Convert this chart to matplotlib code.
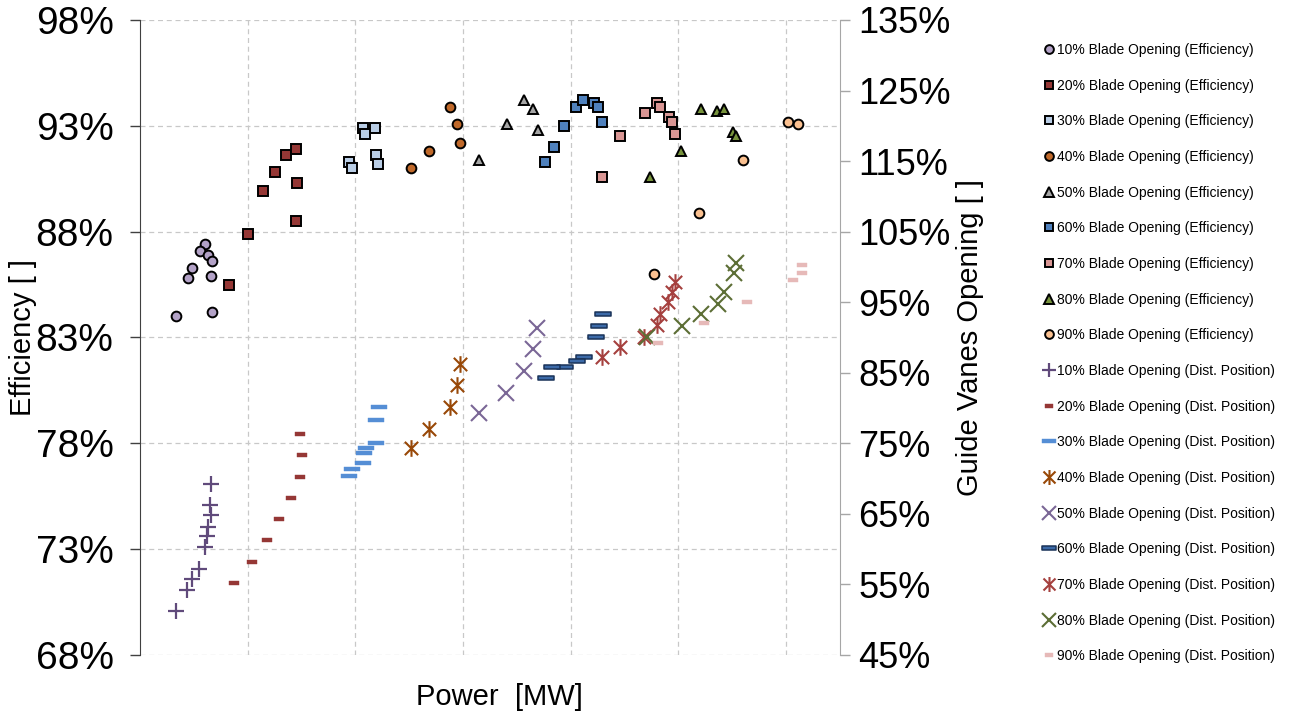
import matplotlib
matplotlib.use("Agg")
import matplotlib.pyplot as plt
from matplotlib.path import Path
from matplotlib.ticker import FuncFormatter

plt.rcParams['font.family'] = ['Liberation Sans', 'DejaVu Sans']

# efficiency points (power in MW, efficiency in %)
eff10_x = [6.0, 5.6, 6.3, 6.7, 4.8, 4.5, 6.6, 3.3, 6.7]
eff10_y = [87.4, 87.1, 86.9, 86.6, 86.3, 85.8, 85.9, 84.0, 84.2]
eff20_x = [8.3, 10.0, 11.4, 12.5, 13.6, 14.5, 14.6, 14.5]
eff20_y = [85.5, 87.9, 89.9, 90.8, 91.6, 91.9, 90.3, 88.5]
eff30_x = [19.4, 19.7, 20.7, 20.9, 21.8, 21.9, 22.1]
eff30_y = [91.3, 91.0, 92.9, 92.6, 92.9, 91.6, 91.2]
eff40_x = [28.8, 29.4, 29.7, 26.8, 25.2]
eff40_y = [93.9, 93.1, 92.2, 91.8, 91.0]
eff50_x = [35.7, 36.5, 34.1, 37.0, 31.5]
eff50_y = [94.2, 93.8, 93.1, 92.8, 91.4]
eff60_x = [40.5, 41.1, 42.2, 42.5, 42.9, 39.4, 38.4, 37.6]
eff60_y = [93.9, 94.2, 94.1, 93.9, 93.2, 93.0, 92.0, 91.3]
eff70_x = [48.0, 48.3, 46.9, 49.1, 49.4, 49.7, 44.6, 42.9]
eff70_y = [94.1, 93.9, 93.6, 93.4, 93.2, 92.6, 92.5, 90.6]
eff80_x = [52.1, 53.6, 54.2, 55.1, 55.3, 50.2, 47.4]
eff80_y = [93.8, 93.7, 93.8, 92.7, 92.5, 91.8, 90.6]
eff90_x = [60.2, 61.1, 56.0, 51.9, 47.7]
eff90_y = [93.2, 93.1, 91.4, 88.9, 86.0]

# guide vane (distributor) position, %
gv10_x = [6.6, 6.5, 6.6, 6.3, 6.2, 6.0, 5.5, 4.8, 4.4, 3.3]
gv10_y = [69.3, 66.2, 64.8, 63.1, 61.8, 60.3, 57.2, 55.8, 54.2, 51.2]
gv20_x = [14.9, 15.0, 14.9, 14.0, 12.9, 11.8, 10.4, 8.7]
gv20_y = [76.3, 73.3, 70.2, 67.2, 64.3, 61.3, 58.2, 55.2]
gv30_x = [22.2, 21.9, 21.9, 21.0, 20.8, 20.7, 19.7, 19.4]
gv30_y = [80.1, 78.3, 75.1, 74.3, 73.7, 72.2, 71.3, 70.3]
gv40_x = [29.7, 29.4, 28.8, 26.8, 25.2]
gv40_y = [86.2, 83.2, 80.2, 77.1, 74.3]
gv50_x = [36.9, 36.5, 35.7, 34.0, 31.5]
gv50_y = [91.3, 88.3, 85.2, 82.2, 79.3]
gv60_x = [43.0, 42.6, 42.3, 41.2, 40.6, 39.5, 38.3, 37.7]
gv60_y = [93.3, 91.7, 90.1, 87.2, 86.6, 85.8, 85.8, 84.2]
gv70_x = [49.7, 49.4, 49.0, 48.3, 48.0, 46.8, 44.6, 42.9]
gv70_y = [97.8, 96.5, 95.0, 93.4, 91.8, 90.1, 88.7, 87.2]
gv80_x = [55.3, 55.2, 54.2, 53.7, 52.1, 50.3, 47.1]
gv80_y = [100.5, 99.2, 96.4, 94.8, 93.3, 91.7, 90.1]
gv90_x = [61.5, 61.5, 60.6, 56.4, 52.4, 48.1]
gv90_y = [100.3, 99.2, 98.2, 95.1, 92.1, 89.2]

openings = ['10%', '20%', '30%', '40%', '50%', '60%', '70%', '80%', '90%']

# custom markers: flat dashes and an excel-like asterisk
def dash(ratio):
    return Path([(-1, -ratio), (1, -ratio), (1, ratio), (-1, ratio), (-1, -ratio)],
                [Path.MOVETO, Path.LINETO, Path.LINETO, Path.LINETO, Path.CLOSEPOLY])

star = Path([(0, -1), (0, 1), (-0.8, -0.8), (0.8, 0.8), (-0.8, 0.8), (0.8, -0.8)],
            [Path.MOVETO, Path.LINETO, Path.MOVETO, Path.LINETO, Path.MOVETO, Path.LINETO])

eff_data = [(eff10_x, eff10_y), (eff20_x, eff20_y), (eff30_x, eff30_y),
            (eff40_x, eff40_y), (eff50_x, eff50_y), (eff60_x, eff60_y),
            (eff70_x, eff70_y), (eff80_x, eff80_y), (eff90_x, eff90_y)]
gv_data = [(gv10_x, gv10_y), (gv20_x, gv20_y), (gv30_x, gv30_y),
           (gv40_x, gv40_y), (gv50_x, gv50_y), (gv60_x, gv60_y),
           (gv70_x, gv70_y), (gv80_x, gv80_y), (gv90_x, gv90_y)]

eff_styles = [('o', '#b3a2c7'), ('s', '#953735'), ('s', '#b9cde5'),
              ('o', '#c0692a'), ('^', '#a6a6a6'), ('s', '#4f81bd'),
              ('s', '#d99694'), ('^', '#77933c'), ('o', '#fac090')]

fig = plt.figure(figsize=(12.9, 7.22), dpi=100)
ax = fig.add_axes([140 / 1290, 1 - 655 / 722, 700 / 1290, 635 / 722])
ax2 = ax.twinx()

handles = []
for op, (xs, ys), (m, c) in zip(openings, eff_data, eff_styles):
    ms = 7.4 if m == '^' else 7.0
    h, = ax.plot(xs, ys, linestyle='none', marker=m, markersize=ms,
                 markerfacecolor=c, markeredgecolor='black', markeredgewidth=1.4,
                 label=op + ' Blade Opening (Efficiency)', zorder=3)
    handles.append(h)

gv_styles = [
    dict(marker='+', markersize=11, markeredgewidth=1.6, color='#604a7b'),
    dict(marker=dash(0.42), markersize=6.5, markeredgewidth=0.3, color='#953735'),
    dict(marker=dash(0.3), markersize=11, markeredgewidth=0.3, color='#558ed5'),
    dict(marker=star, markersize=12, markeredgewidth=1.5, color='#984807'),
    dict(marker='x', markersize=11.5, markeredgewidth=1.5, color='#7a6796'),
    dict(marker=dash(0.3), markersize=11, markeredgewidth=1.1, color='#3c6aa8',
         markeredgecolor='#1a3358'),
    dict(marker=star, markersize=12, markeredgewidth=1.5, color='#a5403e'),
    dict(marker='x', markersize=11.5, markeredgewidth=1.5, color='#5c6e35'),
    dict(marker=dash(0.42), markersize=6.5, markeredgewidth=0.3, color='#e6b9b8'),
]
for op, (xs, ys), st in zip(openings, gv_data, gv_styles):
    h, = ax2.plot(xs, ys, linestyle='none', label=op + ' Blade Opening (Dist. Position)',
                  zorder=3, **st)
    handles.append(h)

# axes
ax.set_xlim(0, 65)
ax.set_ylim(68, 98)
ax.set_yticks([68, 73, 78, 83, 88, 93, 98])
ax.set_xticks([10, 20, 30, 40, 50, 60])
ax.set_xticklabels([])
ax.tick_params(axis='x', length=0)
ax.yaxis.set_major_formatter(FuncFormatter(lambda v, p: '%d%%' % v))
ax.grid(True, color='#c8c8c8', linestyle=(0, (4, 3)), linewidth=0.9)
ax.set_axisbelow(True)

ax2.set_ylim(45, 135)
ax2.set_yticks(range(45, 136, 10))
ax2.yaxis.set_major_formatter(FuncFormatter(lambda v, p: '%d%%' % v))

for a in (ax, ax2):
    a.spines['top'].set_visible(False)
    a.spines['bottom'].set_visible(False)
ax.spines['right'].set_visible(False)
ax2.spines['left'].set_visible(False)
ax.spines['left'].set_color('#404040')
ax2.spines['right'].set_color('#a6a6a6')
ax.tick_params(axis='y', length=7, width=1, color='#404040', labelsize=28, pad=12)
ax2.tick_params(axis='y', length=7, width=1, color='#a6a6a6', labelsize=26, pad=6)

ax.set_xlabel('Power  [MW]', fontsize=21, va='center')
ax.set_ylabel('Efficiency [ ]', fontsize=21, va='center')
ax2.set_ylabel('Guide Vanes Opening [ ]', fontsize=21, va='center', rotation=90)
ax.xaxis.set_label_coords(0.514, -0.066)
ax.yaxis.set_label_coords(-0.167, 0.5)
ax2.yaxis.set_label_coords(1.186, 0.5)

fig.legend(handles=handles, loc='upper left', bbox_to_anchor=(1036 / 1290, 1 - 36 / 722),
           frameon=False, fontsize=10, labelspacing=1.56, handlelength=0.8,
           handletextpad=0.2, borderpad=0, markerscale=0.9)

fig.savefig('out.png', dpi=100)
